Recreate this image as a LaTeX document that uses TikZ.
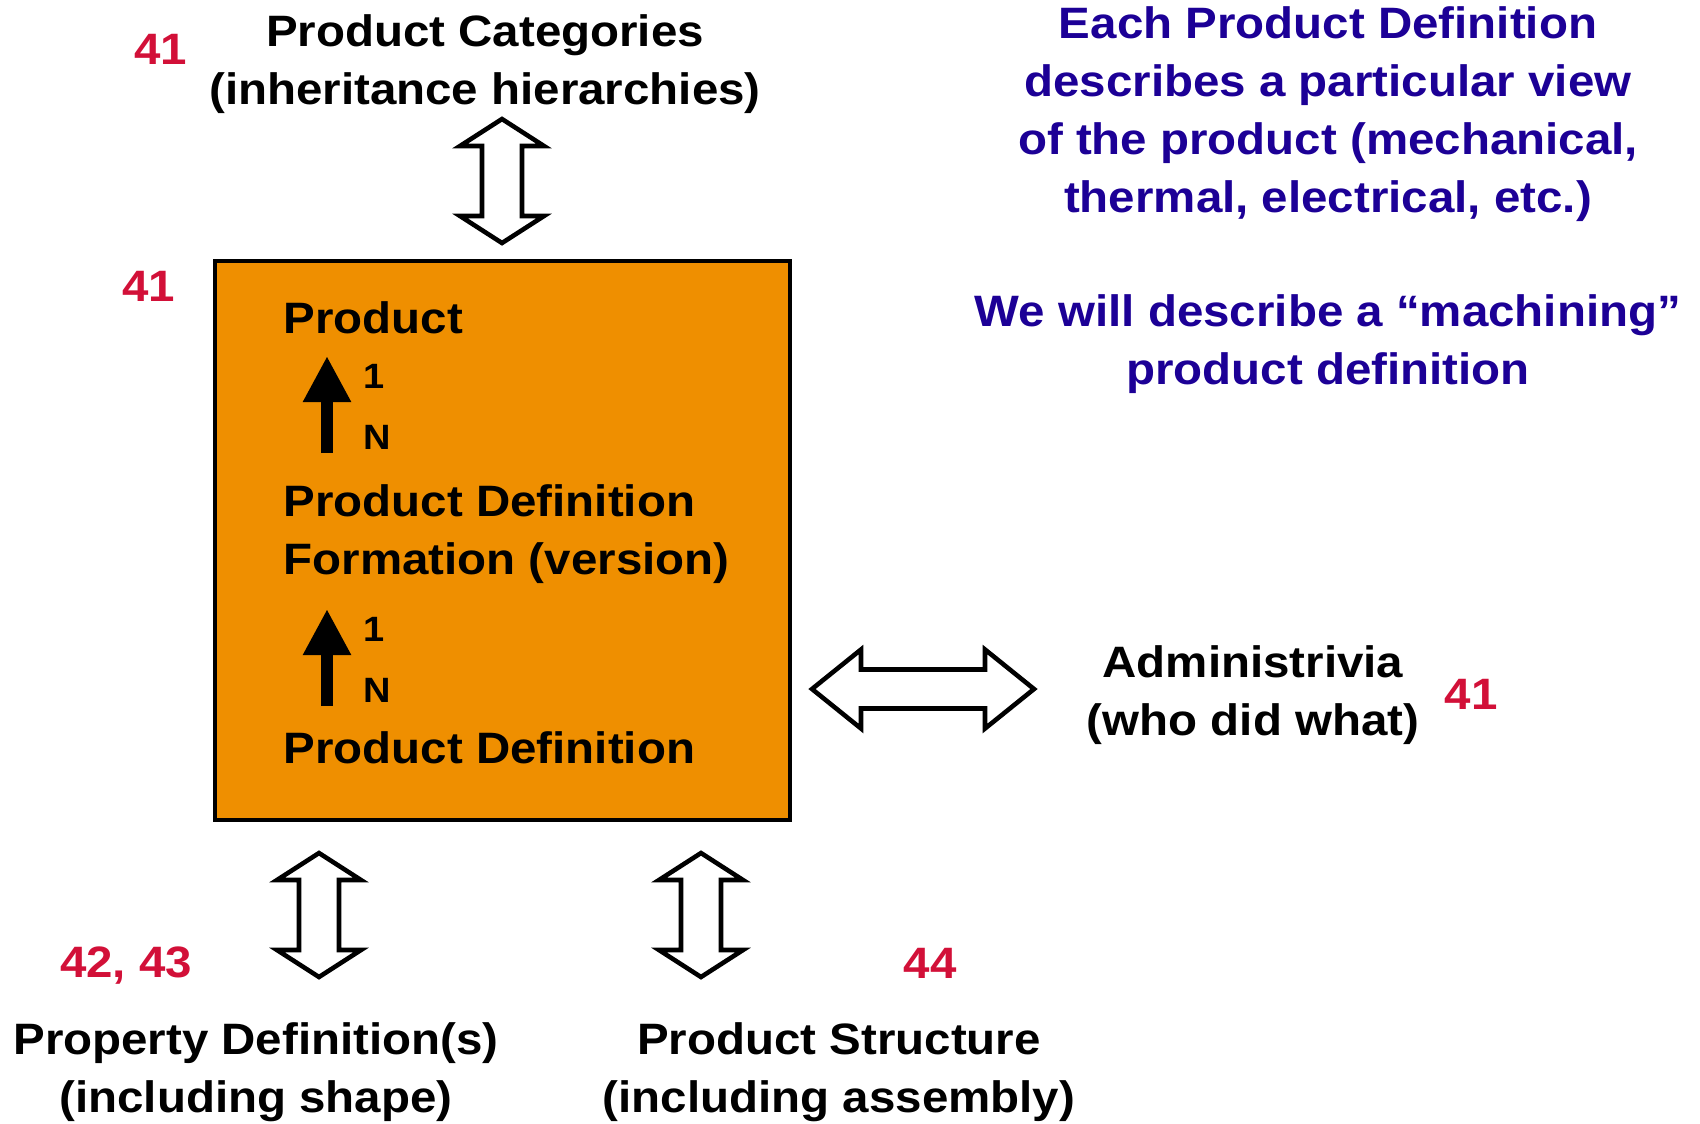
\documentclass[tikz,border=0pt]{standalone}
\usepackage{fontspec}
\setmainfont{Liberation Sans}[FakeStretch=1.08]
\usetikzlibrary{arrows.meta}
\definecolor{boxorange}{RGB}{239,143,0}
\definecolor{refred}{RGB}{210,16,56}
\definecolor{noteblue}{RGB}{28,0,150}
\newcommand{\dblarrowV}[3]
{   \draw[hollow] (#1-42,#2+27) -- (#1,#2) -- (#1+42,#2+27) -- (#1+20,#2+27) -- (#1+20,#3-27)
      -- (#1+42,#3-27) -- (#1,#3) -- (#1-42,#3-27) -- (#1-20,#3-27) -- (#1-20,#2+27) -- cycle;
}
\newcommand{\dblarrowH}[3]
{   \draw[hollow] (#1+49,#3-39.5) -- (#1,#3) -- (#1+49,#3+39.5) -- (#1+49,#3+19.5) -- (#2-49,#3+19.5)
      -- (#2-49,#3+39.5) -- (#2,#3) -- (#2-49,#3-39.5) -- (#2-49,#3-19.5) -- (#1+49,#3-19.5) -- cycle;
}
\newcommand{\bigfont}{\fontsize{12.5}{16.5}\selectfont\bfseries}

\begin{document}
\begin{tikzpicture}[x=0.01cm,y=-0.01cm,
  lbl/.style={inner sep=0pt, align=center, font=\bigfont},
  boxtxt/.style={inner sep=0pt, anchor=west, align=left, font=\bigfont},
  num/.style={inner sep=0pt, text=refred, font=\bigfont},
  card/.style={inner sep=0pt, font=\fontsize{10}{12}\selectfont\bfseries},
  note/.style={inner sep=0pt, align=center, text=noteblue, font=\bigfont},
  hollow/.style={draw=black, fill=white, line width=1.3pt, line join=miter},
  uparrow/.style={line width=0.12cm, -{Triangle[width=0.45cm,length=0.46cm]}}]
 \useasboundingbox (0,0) rectangle (1700,1123);

 % central box
 \node[draw=black, line width=1.3pt, fill=boxorange, minimum width=5.75cm, minimum height=5.59cm,
   inner sep=0pt] (box) at (502.5,540.5) {};
 \node[boxtxt] (prod) at (283,318) {Product};
 \node[boxtxt] (pdf) at (283,534) {Product Definition\\Formation (version)};
 \node[boxtxt] (pd) at (283,748) {Product Definition};
 \node[card] (one1) at (374,376) {1};
 \node[card] (n1) at (377,437) {N};
 \node[card] (one2) at (374,629) {1};
 \node[card] (n2) at (377,690) {N};
 \coordinate (a1s) at (327,453); \coordinate (a1t) at (327,356);
 \coordinate (a2s) at (327,706); \coordinate (a2t) at (327,609);
 \draw[uparrow] (a1s) -- (a1t);
 \draw[uparrow] (a2s) -- (a2t);

 % surrounding entities
 \node[num] (r41a) at (161,49) {41};
 \node[lbl] (cat) at (485,64) {Product Categories\\(inheritance hierarchies)};
 \dblarrowV{502}{119}{243}
 \node[num] (r41b) at (149,286) {41};

 \dblarrowH{812}{1034}{689}
 \node[lbl] (admin) at (1253,695) {Administrivia\\(who did what)};
 \node[num] (r41c) at (1471,694) {41};

 \dblarrowV{319}{853}{977}
 \dblarrowV{701}{853}{977}
 \node[num] (r4243) at (126,966) {42, 43};
 \node[num] (r44) at (930,963) {44};
 \node[lbl] (prop) at (256,1072) {Property Definition(s)\\(including shape)};
 \node[lbl] (struct) at (839,1072) {Product Structure\\(including assembly)};

 % notes
 \node[note] (view) at (1328,114) {Each Product Definition\\describes a particular view\\of the product (mechanical,\\thermal, electrical, etc.)};
 \node[note] (mach) at (1328,344) {We will describe a “machining”\\product definition};
\end{tikzpicture}
\end{document}
